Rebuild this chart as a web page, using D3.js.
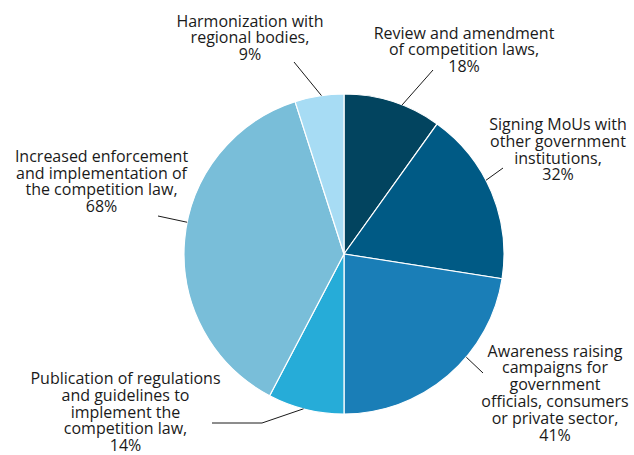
<!DOCTYPE html>
<html>
<head>
<meta charset="utf-8">
<script src="https://cdn.jsdelivr.net/npm/d3@7"></script>
<style>
  html, body { margin: 0; padding: 0; background: #fff; }
  text { font-family: "Open Sans", "Noto Sans", sans-serif; font-size: 16px; fill: #1a1a1a; }
</style>
</head>
<body>
<svg id="chart" width="634" height="455"></svg>
<script>
// data, clockwise from 12 o'clock
const categories = [
    "Review and amendment of competition laws",
    "Signing MoUs with other government institutions",
    "Awareness raising campaigns for government officials, consumers or private sector",
    "Publication of regulations and guidelines to implement the competition law",
    "Increased enforcement and implementation of the competition law",
    "Harmonization with regional bodies"
];
const shares = [18, 32, 41, 14, 68, 9];
const labelLines = [
    ["Review and amendment", "of competition laws,", "18%"],
    ["Signing MoUs with", "other government", "institutions,", "32%"],
    ["Awareness raising", "campaigns for", "government", "officials, consumers", "or private sector,", "41%"],
    ["Publication of regulations", "and guidelines to", "implement the", "competition law,", "14%"],
    ["Increased enforcement", "and implementation of", "the competition law,", "68%"],
    ["Harmonization with", "regional bodies,", "9%"]
];
const colors = ["#02445f", "#005a85", "#1a7eb7", "#26acd8", "#79bed9", "#a7dcf4"];

// label placement: text anchor, first baseline, leader nudge (deg) and leader end
const labelPos = [
    { x: 464, y: 38.5, nudge: 3.5, end: [[433, 70]] },
    { x: 558, y: 130, nudge: -4.7, end: [[503, 168]] },
    { x: 555, y: 356.5, nudge: -9.3, end: [[483, 373]] },
    { x: 125.5, y: 384, nudge: 0.8, end: [[262, 423], [212, 423]] },
    { x: 101.5, y: 161.7, nudge: 6.5, end: [[158, 216]] },
    { x: 250, y: 26.5, nudge: 0.8, end: [[294, 62]] }
];

const svg = d3.select("#chart");
const cx = 344, cy = 254, r = 160;
const lineH = 16.8;

const pie = d3.pie().value(d => d).sort(null);
const arc = d3.arc().innerRadius(0).outerRadius(r);
const arcs = pie(shares);

const g = svg.append("g").attr("transform", `translate(${cx},${cy})`);

g.selectAll("path.slice")
    .data(arcs)
    .enter().append("path")
    .attr("class", "slice")
    .attr("d", arc)
    .attr("fill", (d, i) => colors[i])
    .attr("stroke", "#fff")
    .attr("stroke-width", 1.2);

// leader lines
arcs.forEach(function(d, i) {
    const p = labelPos[i];
    const a = (d.startAngle + d.endAngle) / 2 + p.nudge * Math.PI / 180;
    const pts = [[cx + r * Math.sin(a), cy - r * Math.cos(a)]].concat(p.end);
    svg.append("path")
        .attr("d", d3.line()(pts))
        .attr("fill", "none")
        .attr("stroke", "#1a1a1a")
        .attr("stroke-width", 1);
});

// labels
labelLines.forEach(function(lines, i) {
    const p = labelPos[i];
    const t = svg.append("text").attr("text-anchor", "middle");
    lines.forEach(function(s, k) {
        t.append("tspan").attr("x", p.x).attr("y", p.y + k * lineH).text(s);
    });
});
</script>
</body>
</html>
